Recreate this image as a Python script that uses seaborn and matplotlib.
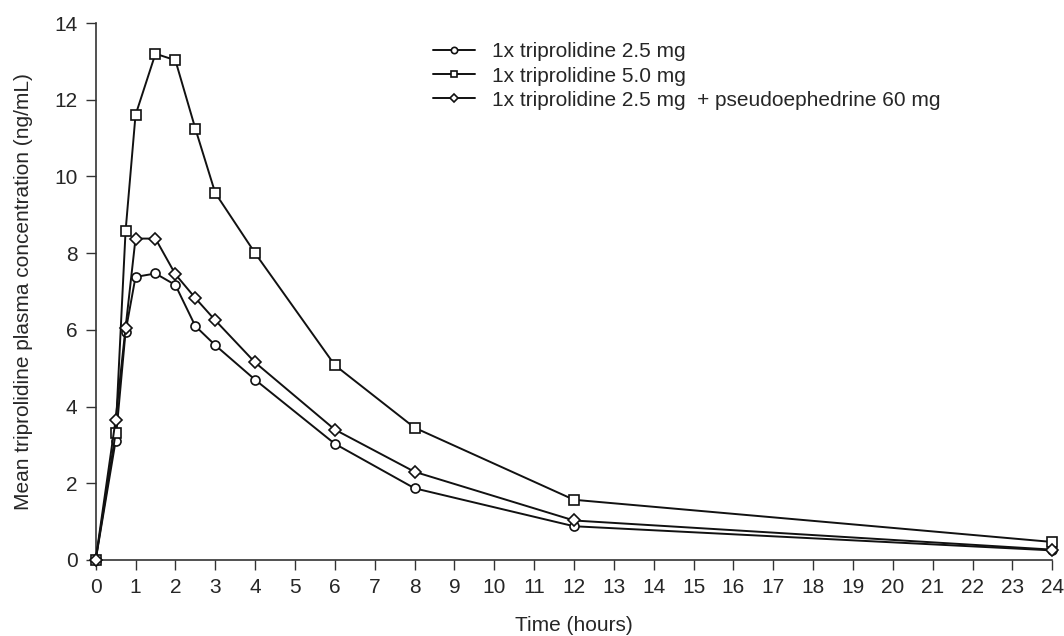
import numpy as np
import pandas as pd
import seaborn as sns
import matplotlib.pyplot as plt

# sampling times (hours)
time_h = [0, 0.5, 0.75, 1, 1.5, 2, 2.5, 3, 4, 6, 8, 12, 24]

# mean plasma concentrations (ng/mL)
conc_25 = [0, 3.1, 5.95, 7.38, 7.47, 7.17, 6.1, 5.6, 4.7, 3.03, 1.87, 0.88, 0.25]
conc_50 = [0, 3.3, 8.57, 11.6, 13.2, 13.03, 11.25, 9.57, 8.0, 5.08, 3.45, 1.57, 0.47]
conc_25_pse = [0, 3.65, 6.05, 8.38, 8.38, 7.45, 6.83, 6.25, 5.15, 3.4, 2.3, 1.03, 0.27]

labels = ['1x triprolidine 2.5 mg',
          '1x triprolidine 5.0 mg',
          '1x triprolidine 2.5 mg  + pseudoephedrine 60 mg']
markers = ['o', 's', 'D']

series = [conc_25, conc_50, conc_25_pse]

sns.set_style("ticks")
plt.rcParams['font.family'] = ['Liberation Sans', 'DejaVu Sans']

fig = plt.figure(figsize=(10.64, 6.36), dpi=100)
ax = fig.add_axes([0.0899, 0.1195, 0.8991, 0.8443])

for lab, mk, vals in zip(labels, markers, series):
    df = pd.DataFrame({'Time': time_h, 'Conc': vals})
    sns.lineplot(data=df, x='Time', y='Conc', ax=ax, label=lab,
                 color='#111111', linewidth=1.4, marker=mk,
                 markersize=6.5 if mk != 'D' else 5.8,
                 markerfacecolor='white', markeredgecolor='#111111',
                 markeredgewidth=1.2, clip_on=False, zorder=3)

ax.set_xlim(0, 24)
ax.set_ylim(0, 14)
ax.set_xticks(range(0, 25))
ax.set_yticks(range(0, 15, 2))
ax.tick_params(axis='both', labelsize=15, length=7, width=1, color='#333333',
               direction='out', pad=6)
for s in ['top', 'right']:
    ax.spines[s].set_visible(False)
for s in ['left', 'bottom']:
    ax.spines[s].set_linewidth(1.2)
    ax.spines[s].set_color('#333333')

ax.set_xlabel('Time (hours)', fontsize=15, labelpad=14)
ax.set_ylabel('Mean triprolidine plasma concentration (ng/mL)', fontsize=15, labelpad=15)

leg = ax.legend(loc='upper left', bbox_to_anchor=(0.333, 0.999), frameon=False,
                fontsize=15, handlelength=2.0, markerscale=0.7,
                labelspacing=0.25, handletextpad=0.85)

plt.savefig('out.png', dpi=100)
